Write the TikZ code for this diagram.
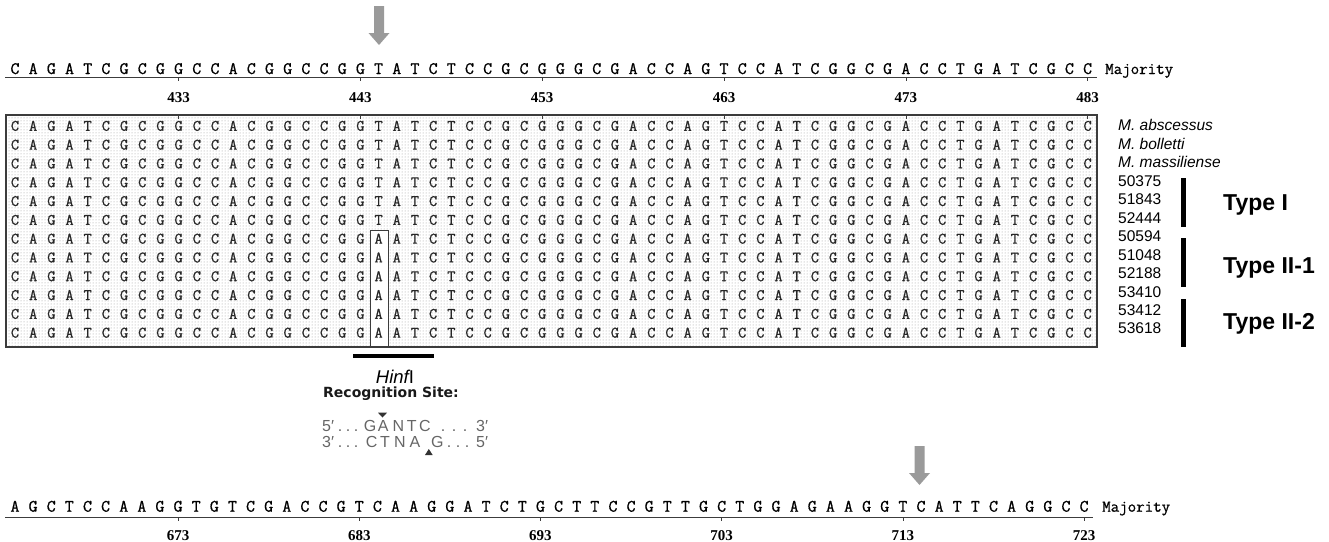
\documentclass[tikz,border=0pt]{standalone}
\usepackage{fontspec}
\setmainfont{Liberation Sans}
\newfontfamily\numfont{Liberation Serif}
\newfontfamily\sitefont{DejaVu Sans}
\newfontfamily\seqfont{Latin Modern Mono}[FakeBold=0.8]
\usetikzlibrary{patterns}
\definecolor{arrowgray}{HTML}{9A9A9A}
\definecolor{boxline}{HTML}{3C3C3C}
\definecolor{sitegray}{HTML}{666666}
\def\seqtop{C,A,G,A,T,C,G,C,G,G,C,C,A,C,G,G,C,C,G,G,T,A,T,C,T,C,C,G,C,G,G,G,C,G,A,C,C,A,G,T,C,C,A,T,C,G,G,C,G,A,C,C,T,G,A,T,C,G,C,C}
\def\seqbot{A,G,C,T,C,C,A,A,G,G,T,G,T,C,G,A,C,C,G,T,C,A,A,G,G,A,T,C,T,G,C,T,T,C,C,G,T,T,G,C,T,G,G,A,G,A,A,G,G,T,C,A,T,T,C,A,G,G,C,C}
\newcommand{\seqarrow}[2]{\fill[arrowgray] (#1-5,#2) -- ++(10,0) -- ++(0,27) -- ++(5.5,0) -- ++(-10.5,12) -- ++(-10.5,-12) -- ++(5.5,0) -- cycle;}
\begin{document}
\begin{tikzpicture}[x=1pt, y=-1pt,
  seqnt/.style={font=\fontsize{17.5}{18}\seqfont, inner sep=0pt, anchor=base},
  alnt/.style={font=\fontsize{16}{16}\seqfont, inner sep=0pt, anchor=base, text=black!85},
  posnum/.style={font=\fontsize{15}{15}\numfont\bfseries, inner sep=0pt, anchor=base},
  strain/.style={font=\fontsize{15.5}{16}\selectfont, inner sep=0pt, anchor=base west},
  typelab/.style={font=\fontsize{23}{24}\selectfont\bfseries, inner sep=0pt, anchor=base west},
  sitetx/.style={font=\fontsize{16}{16}\selectfont, text=sitegray, inner sep=0pt, anchor=base}]
\useasboundingbox (0,0) rectangle (1329,541);
% top consensus
\seqarrow{379}{6}
\foreach \nuc [count=\i from 0] in \seqtop \node[seqnt] (a\i) at ({15+18.18*\i},74) {\nuc};
\node[seqnt, font=\fontsize{16.5}{17}\seqfont, anchor=base west] (majA) at (1105,74) {Majority};
\draw[boxline, line width=1pt] (5,77.5) -- (1097,77.5);
\foreach \k in {9,19,...,59} \draw[boxline] ({15+18.18*\k},77.5) -- ++(0,3.5);
\foreach \n [count=\k from 0] in {433,443,453,463,473,483}
  \node[posnum] (p\n) at ({15+18.18*(9+10*\k)},102.7) {\n};
% alignment block
\fill[pattern=dots, pattern color=gray!80] (6,115) rectangle (1097,347);
\draw[boxline, fill=white, line width=0.9pt] (370,230) rectangle (388,347);
\draw[boxline, line width=1.2pt] (6,115) rectangle (1097,347);
\draw[boxline, line width=2.5pt] (6,115) -- (1097,115);
\foreach \k in {9,19,...,59} \draw[boxline] ({15+18.18*\k},115) -- ++(0,3.5);
\foreach \r in {1,...,12}{
  \foreach \nuc [count=\i from 0] in \seqtop {
    \ifnum\r>6 \ifnum\i=20 \def\nuc{A}\fi\fi
    \node[alnt] (r\r c\i) at ({15+18.18*\i},{130.8+18.8*(\r-1)}) {\nuc};
  }
}
% strains
\foreach \sp [count=\r] in {M. abscessus,M. bolletti,M. massiliense}
  \node[strain, font=\fontsize{15.5}{16}\selectfont\itshape] (s\r) at (1118,{130.7+18.48*(\r-1)}) {\sp};
\foreach \st [count=\r from 4] in {50375,51843,52444,50594,51048,52188,53410,53412,53618}
  \node[strain] (s\r) at (1118,{130.7+18.48*(\r-1)}) {\st};
\foreach \ya/\yb in {178/227,238/287,299/347} \draw[line width=5pt] (1183.5,\ya) -- (1183.5,\yb);
\node[typelab] (t1) at (1223,210) {Type I};
\node[typelab] (t2) at (1223,273.3) {Type II-1};
\node[typelab] (t3) at (1223,329.3) {Type II-2};
% HinfI site
\draw[line width=4pt] (353,355.5) -- (434,355.5);
\node[sitetx, text=black, font=\fontsize{18.5}{19}\selectfont] (hinf) at (395,383) {{\itshape Hinf}I};
\node[sitetx, text=black!90, anchor=base west, font=\fontsize{14}{14}\sitefont\bfseries] (recog) at (323,397.3) {Recognition Site:};
\node[sitetx, anchor=base west] (f5) at (322,431.7) {5′};
\node[sitetx, anchor=base west] (g3) at (322,447.7) {3′};
\foreach \x [count=\i] in {340,348,356}{
  \node[sitetx] (fl\i) at (\x,431.7) {.};
  \node[sitetx] (gl\i) at (\x,447.7) {.};
}
\foreach \nuc/\x [count=\i] in {G/370,A/383.3,N/398.3,T/411.7,C/425}
  \node[sitetx] (f\i) at (\x,431.7) {\nuc};
\foreach \nuc/\x [count=\i] in {C/371.7,T/385,N/400,A/415,G/437.3}
  \node[sitetx] (g\i) at (\x,447.7) {\nuc};
\foreach \x [count=\i] in {443,454,465}
  \node[sitetx] (fr\i) at (\x,431.7) {.};
\foreach \x [count=\i] in {449,458,467}
  \node[sitetx] (gr\i) at (\x,447.7) {.};
\node[sitetx, anchor=base west] (f3) at (476,431.7) {3′};
\node[sitetx, anchor=base west] (g5) at (476,447.7) {5′};
\fill[black!80] (378,412.7) -- (387,412.7) -- (382.5,417.5) -- cycle;
\fill[black!80] (425,455) -- (432.7,455) -- (428.8,449) -- cycle;
% bottom consensus
\seqarrow{919.5}{446}
\foreach \nuc [count=\i from 0] in \seqbot \node[seqnt] (b\i) at ({15+18.12*\i},511.7) {\nuc};
\node[seqnt, font=\fontsize{16.5}{17}\seqfont, anchor=base west] (majB) at (1102,511.7) {Majority};
\draw[boxline, line width=1pt] (5,517.3) -- (1093,517.3);
\foreach \k in {9,19,...,59} \draw[boxline] ({15+18.12*\k},517.3) -- ++(0,3.5);
\foreach \n [count=\k from 0] in {673,683,693,703,713,723}
  \node[posnum] (q\n) at ({15+18.12*(9+10*\k)},540) {\n};
\end{tikzpicture}
\end{document}
